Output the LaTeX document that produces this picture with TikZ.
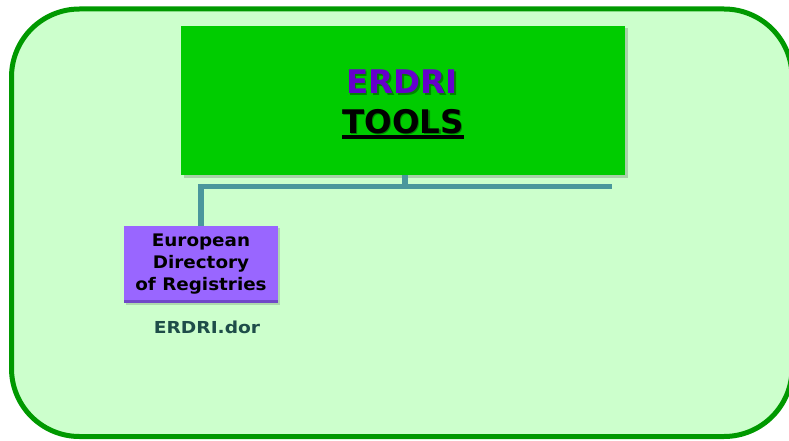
\documentclass[tikz,border=0pt]{standalone}
\usepackage{fontspec}
\setmainfont{DejaVu Sans}
\definecolor{framegreen}{HTML}{009900}
\definecolor{paleback}{HTML}{CCFFCC}
\definecolor{boxgreen}{HTML}{00CC00}
\definecolor{titlepurple}{HTML}{6600CC}
\definecolor{boxpurple}{HTML}{9966FF}
\definecolor{boxpurpledark}{HTML}{7048C8}
\definecolor{conncol}{HTML}{4A979C}
\definecolor{labelteal}{HTML}{1E4D49}
\tikzset{
  mainbox/.style={draw=none, fill=boxgreen, minimum width=444pt, minimum height=149pt, inner sep=0pt},
  regbox/.style={draw=none, fill=boxpurple, minimum width=154pt, minimum height=77pt, inner sep=0pt,
    align=center, font=\fontsize{17.3}{22}\selectfont\bfseries\addfontfeature{FakeStretch=1.06},
    path picture={\fill[boxpurpledark] ([yshift=3.5pt]path picture bounding box.south west) rectangle (path picture bounding box.south east);}},
  conn/.style={draw=conncol, line width=5.5pt, line join=miter},
  titletext/.style={inner sep=0pt, anchor=base, font=\fontsize{32.5}{39}\selectfont\bfseries},
}
\begin{document}
\begin{tikzpicture}[x=1pt,y=-1pt]
\useasboundingbox (0,0) rectangle (789,441);
% background frame
\draw[framegreen, fill=paleback, line width=5pt, rounded corners=68pt] (11.5,9) rectangle (792,436.5);
% main box with shadow
\fill[black, opacity=0.18] (183.5,28.5) rectangle (627.5,177.5);
\node[mainbox] (tools) at (403,100.5) {};
% title texts with soft shadow
\node[titletext, text=black, opacity=0.35] at (403.5,95.5) {ERDRI};
\node[titletext, text=titlepurple] (t1) at (402,94) {ERDRI};
\node[titletext, text=black, opacity=0.35] at (404.5,134.5) {TOOLS};
\node[titletext, text=black] (t2) at (403,133) {TOOLS};
\draw[black, line width=3.5pt] ([yshift=-3.8pt]t2.base west) -- ([yshift=-3.8pt]t2.base east);
% registry box
\fill[black, opacity=0.15] (126,228) rectangle (280,305);
\node[regbox] (eur) at (201,264.5) {European\\Directory\\of Registries};
\node[inner sep=0pt, anchor=base, text=labelteal, font=\fontsize{16.5}{20}\selectfont\bfseries\addfontfeature{FakeStretch=1.13}] (dor) at (207,333) {ERDRI.dor};
% connectors
\coordinate (bus) at (405,186.7);
\coordinate (busend) at (612,186.7);
\draw[conn] (tools.south -| bus) -- (bus);
\draw[conn] (eur.north) -- (eur.north |- bus) -- (busend);
\end{tikzpicture}
\end{document}
